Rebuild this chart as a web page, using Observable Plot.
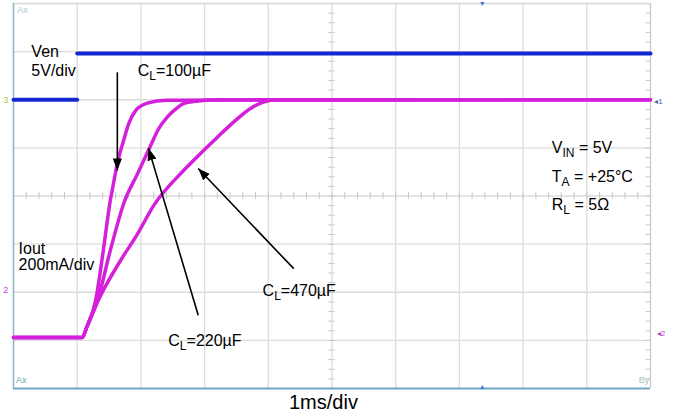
<!DOCTYPE html>
<html>
<head>
<meta charset="utf-8">
<script src="https://cdn.jsdelivr.net/npm/d3@7"></script>
<script src="https://cdn.jsdelivr.net/npm/@observablehq/plot@0.6"></script>
<style>
  html, body { margin: 0; padding: 0; background: #fff; }
  #chart { width: 678px; height: 392px; }
  #chart svg { display: block; }
  #caption { font-family: "Liberation Sans", Arial, sans-serif; font-size: 20px; line-height: 20px; margin-left: 289px; color: #000; }
</style>
</head>
<body>
<div id="chart"></div>
<div id="caption">1ms/div</div>
<script>
// ---- Data (time in ms, current in mA, voltage in V) ----
const venTime  = [0, 1.0, 1.0, 10];
const venVolts = [0, 0, 4.8, 4.8];
const venSeg   = ["low", "low", "high", "high"];

const t100 = [0, 1.08, 1.15, 1.29, 1.41, 1.52, 1.55, 1.63, 1.73, 1.81, 1.92, 2.10, 2.40, 10];
const i100 = [12, 12, 55, 166, 374, 582, 624, 736, 832, 902, 956, 986, 998, 1000];

const t220 = [0, 1.08, 1.15, 1.32, 1.52, 1.74, 1.95, 2.13, 2.28, 2.42, 2.55, 2.67, 2.90, 3.20, 10];
const i220 = [12, 12, 55, 166, 374, 576, 694, 796, 880, 930, 962, 984, 995, 1000, 1000];

const t470 = [0, 1.08, 1.15, 1.21, 1.41, 1.68, 1.95, 2.20, 2.67, 2.94, 3.20, 3.45, 3.72, 3.92, 4.14, 10];
const i470 = [12, 12, 55, 95, 208, 332, 444, 560, 706, 778, 844, 906, 964, 990, 1000, 1000];

// scope channel settings (divisions)
const venOffsetDiv = 6, venPerDiv = 5;      // 5V/div
const ioutOffsetDiv = 1, ioutPerDiv = 200;  // 200mA/div

// grid
const timeDivs = d3.range(0, 11);
const vertDivs = d3.range(0, 9);

// annotations
const labelText = ["Ven", "5V/div", "C{L}=100µF", "V{IN} = 5V", "T{A} = +25°C", "R{L} = 5Ω", "Iout", "200mA/div", "C{L}=470µF", "C{L}=220µF"];
const labelT    = [0.28, 0.28, 1.95, 8.45, 8.45, 8.45, 0.08, 0.08, 3.91, 2.43];
const labelDiv  = [6.99, 6.59, 6.59, 4.99, 4.39, 3.82, 2.91, 2.56, 2.02, 1.0];

const arrowT1 = [1.63, 2.90, 4.40];
const arrowD1 = [6.57, 1.52, 2.49];
const arrowT2 = [1.63, 2.12, 2.90];
const arrowD2 = [4.53, 4.99, 4.57];

// ---- build tables ----
const ven = venTime.map((t, i) => ({t, d: venOffsetDiv + venVolts[i] / venPerDiv, seg: venSeg[i]}));
const mk = (ts, is, cl) => ts.map((t, i) => ({t, d: ioutOffsetDiv + is[i] / ioutPerDiv, cl}));
const iout = [...mk(t470, i470, "470"), ...mk(t220, i220, "220"), ...mk(t100, i100, "100")];
const labels = labelText.map((s, i) => ({s, t: labelT[i], d: labelDiv[i]}));
const arrows = arrowT1.map((t1, i) => ({t1, d1: arrowD1[i], t2: arrowT2[i], d2: arrowD2[i]}));

const magenta = "#d41fdb";
const blue = "#1428d2";

function filledArrow(color, context) {
  const m = d3.create("svg:marker")
    .attr("viewBox", "-12 -5 12 10")
    .attr("markerUnits", "userSpaceOnUse")
    .attr("markerWidth", 12)
    .attr("markerHeight", 10)
    .attr("orient", "auto");
  m.append("path").attr("d", "M-12,-4.6L0,0L-12,4.6Z").attr("fill", "#000").attr("stroke", "none");
  return m.node();
}

function build(useMarker) {
  const minorT = d3.range(0, 10.01, 0.2);
  const minorD = d3.range(0, 8.01, 0.2);
  const arrowMark = useMarker
    ? Plot.link(arrows, {x1: "t1", y1: "d1", x2: "t2", y2: "d2", stroke: "#000", strokeWidth: 1.6, markerEnd: filledArrow})
    : Plot.arrow(arrows, {x1: "t1", y1: "d1", x2: "t2", y2: "d2", stroke: "#000", strokeWidth: 1.6, headLength: 11});
  return Plot.plot({
    width: 678,
    height: 392,
    marginLeft: 13,
    marginRight: 28,
    marginTop: 3,
    marginBottom: 4,
    x: {domain: [0, 10], axis: null},
    y: {domain: [0, 8], axis: null},
    style: {fontFamily: "'Liberation Sans', Arial, sans-serif", background: "#fff", overflow: "visible"},
    marks: [
      Plot.ruleX(timeDivs.slice(1, 10), {stroke: "#dcdcdc", strokeWidth: 1.3}),
      Plot.ruleY(vertDivs.slice(1, 8), {stroke: "#dcdcdc", strokeWidth: 1.3}),
      // center crosshair minor ticks
      Plot.ruleX(minorT, {y1: 3.93, y2: 4.07, stroke: "#c8c8c8"}),
      Plot.ruleY(minorD, {x1: 4.95, x2: 5.05, stroke: "#c8c8c8"}),
      Plot.ruleY(minorD, {x1: 9.93, x2: 10, stroke: "#c8c8c8"}),
      // frame
      Plot.ruleY([8], {stroke: "#d8d8d8", strokeWidth: 1.3}),
      Plot.ruleX([10], {stroke: "#c8c8c8", strokeWidth: 1.3}),
      Plot.ruleX([0], {stroke: "#8fb7c2", strokeWidth: 1.6}),
      Plot.ruleY([0], {stroke: "#6fa6c6", strokeWidth: 2}),
      // traces
      Plot.line(ven, {x: "t", y: "d", z: "seg", stroke: blue, strokeWidth: 4}),
      Plot.line(iout, {x: "t", y: "d", z: "cl", stroke: magenta, strokeWidth: 3.5, curve: "monotone-x"}),
      // scope markers
      Plot.text(["Ax"], {x: 0.06, y: 7.86, text: d => d, textAnchor: "start", fontSize: 9, fill: "#a9c6d6"}),
      Plot.text(["Ax"], {x: 0.04, y: 0.17, text: d => d, textAnchor: "start", fontSize: 9, fill: "#6aa3b8"}),
      Plot.text(["By"], {x: 9.98, y: 0.17, text: d => d, textAnchor: "end", fontSize: 9, fill: "#a6c2b8"}),
      Plot.text(["3"], {x: -0.12, y: 6.0, text: d => d, fontSize: 9, fill: "#9ccc33"}),
      Plot.text(["2"], {x: -0.12, y: 2.04, text: d => d, fontSize: 9, fill: "#c040d0"}),
      Plot.text(["◂1"], {x: 10.06, y: 5.96, text: d => d, textAnchor: "start", fontSize: 8, fill: "#5060a0"}),
      Plot.text(["◂2"], {x: 10.1, y: 1.14, text: d => d, textAnchor: "start", fontSize: 8, fill: "#b040c0"}),
      Plot.text(["▼"], {x: 7.36, y: 7.99, text: d => d, fontSize: 7, fill: "#3a7ad8"}),
      Plot.text(["▲"], {x: 7.36, y: 0.03, text: d => d, fontSize: 7, fill: "#3a7ad8"}),
      // annotations
      arrowMark,
      Plot.text(labels, {x: "t", y: "d", text: "s", textAnchor: "start", fontSize: 16, fill: "#000", className: "anno"})
    ]
  });
}

let chart;
try { chart = build(true); } catch (e) { chart = build(false); }
document.getElementById("chart").appendChild(chart);

// subscripts: "X{sub}rest"
d3.select(chart).selectAll("g.anno text").each(function () {
  const s = this.textContent;
  const m = s.match(/^(.*?)\{(.*?)\}(.*)$/);
  if (!m) return;
  const el = d3.select(this);
  el.text(null);
  el.append("tspan").text(m[1]);
  el.append("tspan").attr("dy", 4).attr("font-size", 12).text(m[2]);
  el.append("tspan").attr("dy", -4).text(m[3]);
});
</script>
</body>
</html>
